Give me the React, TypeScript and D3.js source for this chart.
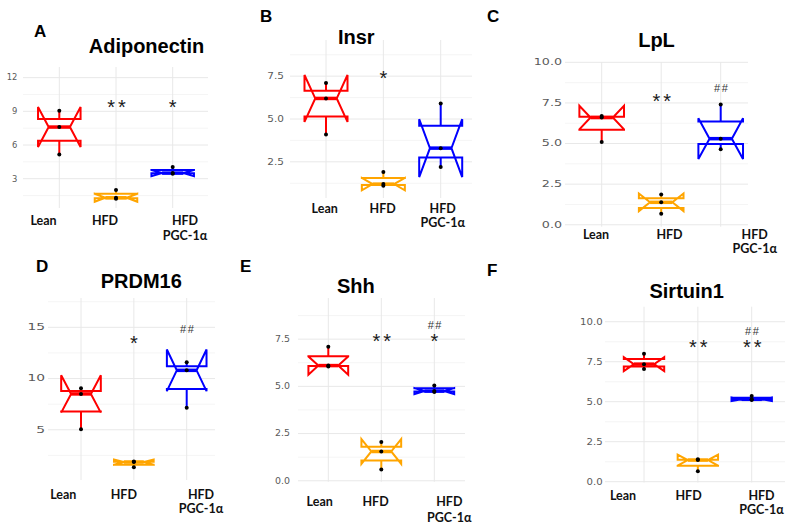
import * as d3 from 'd3';

// groups shared by every panel
const GROUPS = ['Lean', 'HFD', 'HFD PGC-1α'];
const GROUP_COLORS = ['#ff0000', '#ffa500', '#0000ff'];

// three replicates per group (Lean, HFD, HFD PGC-1α)
const adiponectinValues = [[5.15, 7.6, 9.05], [1.22, 1.3, 2.0], [3.45, 3.5, 4.05]];
const insrValues = [[4.1, 6.2, 7.1], [1.1, 1.2, 1.9], [2.2, 3.3, 5.9]];
const lplValues = [[5.1, 6.6, 6.7], [0.68, 1.38, 1.87], [4.65, 5.3, 7.4]];
const prdm16Values = [[5.05, 8.5, 9.05], [1.35, 1.85, 1.9], [7.15, 10.8, 11.6]];
const shhValues = [[6.05, 6.1, 7.1], [0.6, 1.55, 2.05], [4.7, 4.75, 5.05]];
const sirtuinValues = [[7.05, 7.35, 8.0], [0.65, 1.35, 1.4], [5.1, 5.15, 5.35]];

// y axis limits and major ticks
const adiponectinDomain = [0.39, 12.95];
const insrDomain = [0.39, 9.61];
const lplDomain = [-0.12, 10.02];
const prdm16Domain = [0.1, 17.86];
const shhDomain = [-0.05, 9.68];
const sirtuinDomain = [-0.05, 10.94];

const adiponectinTicks = [3, 6, 9, 12];
const insrTicks = [2.5, 5, 7.5];
const lplTicks = [0, 2.5, 5, 7.5, 10];
const prdm16Ticks = [5, 10, 15];
const shhTicks = [0, 2.5, 5, 7.5];
const sirtuinTicks = [0, 2.5, 5, 7.5, 10];

// significance marks per group and the value they sit at
const adiponectinStars = ['', '**', '*'];
const insrStars = ['', '*', ''];
const lplStars = ['', '**', ''];
const prdm16Stars = ['', '*', ''];
const shhStars = ['', '**', '*'];
const sirtuinStars = ['', '**', '**'];

const adiponectinHashes = ['', '', ''];
const insrHashes = ['', '', ''];
const lplHashes = ['', '', '##'];
const prdm16Hashes = ['', '', '##'];
const shhHashes = ['', '', '##'];
const sirtuinHashes = ['', '', '##'];

const starLevels = [9.7, 7.6, 7.88, 13.9, 7.59, 8.65];
const hashLevels = [0, 0, 8.4, 14.85, 8.25, 9.4];

type Layout = {
  left: number; right: number; top: number; bottom: number;
  c1: number; c3: number;
  titleX: number; titleY: number;
  letterX: number; letterY: number;
  tickX: number; tickStretch: number;
  labelDx: number[]; labelY: number; line2: number;
};

const LAYOUTS: Layout[] = [
  { left: 23, right: 208, top: 67, bottom: 208, c1: 59.3, c3: 172.7, titleX: 146.5, titleY: 52.7, letterX: 34, letterY: 37, tickX: 17.3, tickStretch: 1.05, labelDx: [-15.8, -11, 12.3], labelY: 225, line2: 15 },
  { left: 290, right: 472, top: 40, bottom: 198, c1: 326, c3: 440.7, titleX: 356.3, titleY: 44.3, letterX: 260, letterY: 22, tickX: 284, tickStretch: 1.31, labelDx: [-1.3, -0.7, 2], labelY: 212.7, line2: 14 },
  { left: 565, right: 748, top: 62, bottom: 226.7, c1: 601.7, c3: 720.7, titleX: 656.5, titleY: 46.7, letterX: 487, letterY: 22, tickX: 562, tickStretch: 1.59, labelDx: [-5.7, 8.3, 34], labelY: 238.5, line2: 14.5 },
  { left: 48, right: 215, top: 298, bottom: 480, c1: 81, c3: 186.7, titleX: 141.3, titleY: 288.3, letterX: 36, letterY: 272, tickX: 45, tickStretch: 1.73, labelDx: [-17.7, -10, 14.3], labelY: 499, line2: 14.3 },
  { left: 298, right: 465, top: 298, bottom: 481.7, c1: 328.3, c3: 434.3, titleX: 355.8, titleY: 293.3, letterX: 240, letterY: 272, tickX: 290, tickStretch: 1.18, labelDx: [-8.6, -5.7, 15], labelY: 505.7, line2: 16 },
  { left: 605, right: 785, top: 306.7, bottom: 482.5, c1: 644, c3: 751.7, titleX: 686.7, titleY: 297.7, letterX: 487, letterY: 276, tickX: 602.7, tickStretch: 1.27, labelDx: [-21, -9.3, 9.8], labelY: 500, line2: 14.3 },
];

const PANELS = [
  { letter: 'A', title: 'Adiponectin', values: adiponectinValues, domain: adiponectinDomain, ticks: adiponectinTicks, fmt: 'd', stars: adiponectinStars, hashes: adiponectinHashes },
  { letter: 'B', title: 'Insr', values: insrValues, domain: insrDomain, ticks: insrTicks, fmt: '.1f', stars: insrStars, hashes: insrHashes },
  { letter: 'C', title: 'LpL', values: lplValues, domain: lplDomain, ticks: lplTicks, fmt: '.1f', stars: lplStars, hashes: lplHashes },
  { letter: 'D', title: 'PRDM16', values: prdm16Values, domain: prdm16Domain, ticks: prdm16Ticks, fmt: 'd', stars: prdm16Stars, hashes: prdm16Hashes },
  { letter: 'E', title: 'Shh', values: shhValues, domain: shhDomain, ticks: shhTicks, fmt: '.1f', stars: shhStars, hashes: shhHashes },
  { letter: 'F', title: 'Sirtuin1', values: sirtuinValues, domain: sirtuinDomain, ticks: sirtuinTicks, fmt: '.1f', stars: sirtuinStars, hashes: sirtuinHashes },
];

const ARIAL = '"Liberation Sans", Arial, sans-serif';
const LABEL_FONT = 'Lato, "Open Sans", sans-serif';

function boxStats(values: number[]) {
  const s = values.slice().sort(d3.ascending);
  const q1 = d3.quantile(s, 0.25) ?? 0;
  const med = d3.quantile(s, 0.5) ?? 0;
  const q3 = d3.quantile(s, 0.75) ?? 0;
  const iqr = q3 - q1;
  const notch = (1.58 * iqr) / Math.sqrt(s.length);
  const lo = d3.min(s.filter((v) => v >= q1 - 1.5 * iqr)) ?? q1;
  const hi = d3.max(s.filter((v) => v <= q3 + 1.5 * iqr)) ?? q3;
  return { q1, med, q3, lo, hi, notchLo: med - notch, notchHi: med + notch };
}

function Panel({ panel, layout, index }: { panel: (typeof PANELS)[number]; layout: Layout; index: number }) {
  const x = d3.scalePoint<string>().domain(GROUPS).range([layout.c1, layout.c3]);
  const y = d3.scaleLinear().domain(panel.domain).range([layout.bottom, layout.top]);
  const step = x.step();
  const boxW = step * 0.75;
  const fmt = d3.format(panel.fmt);

  const tickStep = panel.ticks[1] - panel.ticks[0];
  const extended = [panel.ticks[0] - tickStep, ...panel.ticks, panel.ticks[panel.ticks.length - 1] + tickStep];
  const minors = d3
    .pairs(extended)
    .map(([a, b]) => (a + b) / 2)
    .filter((v) => v >= panel.domain[0] && v <= panel.domain[1]);

  const line = d3.line<[number, number]>();

  return (
    <g>
      {/* grid */}
      {minors.map((v) => (
        <line key={`mn${v}`} x1={layout.left} x2={layout.right} y1={y(v)} y2={y(v)} stroke="#f3f3f3" strokeWidth={0.8} />
      ))}
      {panel.ticks.map((v) => (
        <line key={`mj${v}`} x1={layout.left} x2={layout.right} y1={y(v)} y2={y(v)} stroke="#e8e8e8" strokeWidth={1} />
      ))}
      {GROUPS.map((g) => (
        <line key={`vg${g}`} x1={x(g)} x2={x(g)} y1={layout.top} y2={layout.bottom} stroke="#e8e8e8" strokeWidth={1} />
      ))}

      {/* tick labels */}
      {panel.ticks.map((v) => (
        <text
          key={`tl${v}`}
          transform={`translate(${layout.tickX},${y(v)}) scale(${layout.tickStretch},1)`}
          textAnchor="end"
          dy="0.35em"
          fontSize={8}
          fontFamily='"DejaVu Sans", sans-serif'
          fill="#5a5a5a"
        >
          {fmt(v)}
        </text>
      ))}

      {/* boxes */}
      {GROUPS.map((g, gi) => {
        const st = boxStats(panel.values[gi]);
        const cx = x(g) ?? 0;
        const xmin = cx - boxW / 2;
        const xmax = cx + boxW / 2;
        const ind = (xmax - xmin) / 4;
        const pts: [number, number][] = [
          [xmin, y(st.q3)],
          [xmin, y(st.notchHi)],
          [xmin + ind, y(st.med)],
          [xmin, y(st.notchLo)],
          [xmin, y(st.q1)],
          [xmax, y(st.q1)],
          [xmax, y(st.notchLo)],
          [xmax - ind, y(st.med)],
          [xmax, y(st.notchHi)],
          [xmax, y(st.q3)],
        ];
        const color = GROUP_COLORS[gi];
        return (
          <g key={`box${g}`}>
            <line x1={cx} x2={cx} y1={y(st.q3)} y2={y(st.hi)} stroke={color} strokeWidth={2} />
            <line x1={cx} x2={cx} y1={y(st.q1)} y2={y(st.lo)} stroke={color} strokeWidth={2} />
            <path d={(line(pts) ?? '') + 'Z'} fill="#ffffff" stroke={color} strokeWidth={2} strokeLinejoin="miter" />
            <line x1={xmin + ind} x2={xmax - ind} y1={y(st.med)} y2={y(st.med)} stroke={color} strokeWidth={3.5} />
            {panel.values[gi].map((v, k) => (
              <circle key={k} cx={cx} cy={y(v)} r={2} fill="#000" />
            ))}
          </g>
        );
      })}

      {/* significance */}
      {GROUPS.map((g, gi) =>
        panel.stars[gi] ? (
          <text
            key={`st${g}`}
            x={(x(g) ?? 0) + (panel.stars[gi].length > 1 ? 2 : 0)}
            y={y(starLevels[index]) + 11}
            textAnchor="middle"
            fontSize={20}
            letterSpacing={panel.stars[gi].length > 1 ? 3 : 0}
            fontFamily={ARIAL}
            fill="#1a1a1a"
          >
            {panel.stars[gi]}
          </text>
        ) : null
      )}
      {GROUPS.map((g, gi) =>
        panel.hashes[gi] ? (
          <text
            key={`hs${g}`}
            x={(x(g) ?? 0) + 1}
            y={y(hashLevels[index]) + 4}
            textAnchor="middle"
            fontSize={11}
            letterSpacing={1.5}
            fontFamily={ARIAL}
            fill="#333"
          >
            {panel.hashes[gi]}
          </text>
        ) : null
      )}

      {/* category labels */}
      {GROUPS.map((g, gi) => {
        const lines = gi === 2 ? ['HFD', 'PGC-1α'] : [g];
        return (
          <text
            key={`cl${g}`}
            x={(x(g) ?? 0) + layout.labelDx[gi]}
            y={layout.labelY}
            textAnchor="middle"
            fontSize={12.5}
            fontWeight="bold"
            fontFamily={LABEL_FONT}
            fill="#111"
          >
            {lines.map((t, li) => (
              <tspan key={t} x={(x(g) ?? 0) + layout.labelDx[gi]} dy={li === 0 ? 0 : layout.line2}>
                {t}
              </tspan>
            ))}
          </text>
        );
      })}

      {/* title and panel letter */}
      <text x={layout.titleX} y={layout.titleY} textAnchor="middle" fontSize={20} fontWeight="bold" fontFamily={ARIAL} fill="#000">
        {panel.title}
      </text>
      <text x={layout.letterX} y={layout.letterY} fontSize={17} fontWeight="bold" fontFamily={ARIAL} fill="#000">
        {panel.letter}
      </text>
    </g>
  );
}

export default function App() {
  return (
    <svg
      width={796}
      height={526}
      viewBox="0 0 796 526"
      style={{ position: 'absolute', left: 0, top: 0, background: '#ffffff' }}
    >
      <rect width={796} height={526} fill="#ffffff" />
      {PANELS.map((p, i) => (
        <Panel key={p.letter} panel={p} layout={LAYOUTS[i]} index={i} />
      ))}
    </svg>
  );
}
